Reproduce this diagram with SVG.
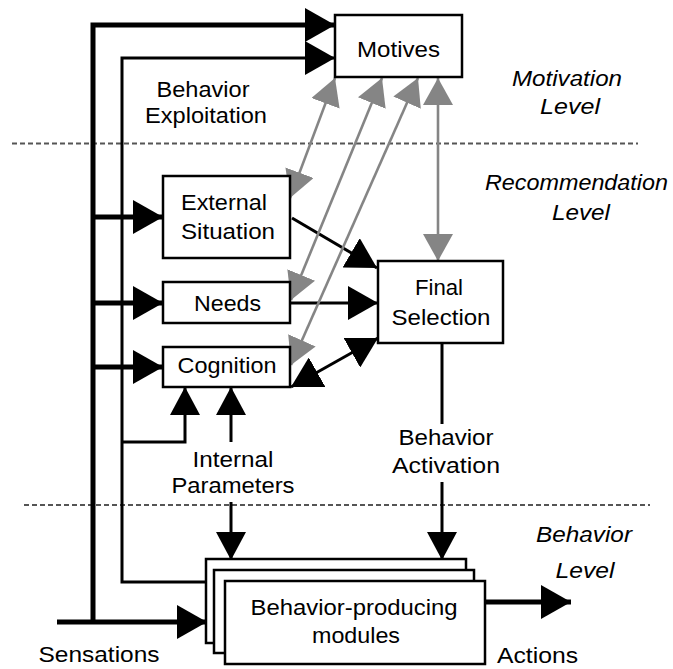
<svg xmlns="http://www.w3.org/2000/svg" width="673" height="669" viewBox="0 0 673 669">
  <style>
    .box{fill:#fff;stroke:#000;stroke-width:2.5}
    .lbl{font-family:"Liberation Sans",Arial,Helvetica,sans-serif;font-size:22px;fill:#000;text-anchor:middle}
    .lvl{font-style:italic}
    .thick{fill:none;stroke:#000;stroke-width:5}
    .thin{fill:none;stroke:#000;stroke-width:3}
    .gray{fill:none;stroke:#858585;stroke-width:2.6}
    .sep{fill:none;stroke:#555;stroke-width:2;stroke-dasharray:5 3}
  </style>
  <defs>
    <marker id="ah" markerUnits="userSpaceOnUse" viewBox="0 0 30 34" markerWidth="30" markerHeight="34" refX="30" refY="17" orient="auto-start-reverse">
      <path d="M0,0 L30,17 L0,34 Z" fill="#000"/>
    </marker>
    <marker id="ahs" markerUnits="userSpaceOnUse" viewBox="0 0 28 30" markerWidth="28" markerHeight="30" refX="28" refY="15" orient="auto-start-reverse">
      <path d="M0,0 L28,15 L0,30 Z" fill="#000"/>
    </marker>
    <marker id="ahg" markerUnits="userSpaceOnUse" viewBox="0 0 27 30" markerWidth="27" markerHeight="30" refX="27" refY="15" orient="auto-start-reverse">
      <path d="M0,0 L27,15 L0,30 Z" fill="#858585"/>
    </marker>
  </defs>

  <rect width="673" height="669" fill="#fff"/>

  <!-- level separators -->
  <g id="separators">
    <line class="sep" x1="12" y1="143.5" x2="638" y2="143.5"/>
    <line class="sep" x1="24" y1="505" x2="650" y2="505"/>
  </g>

  <!-- connectors -->
  <g id="connectors">
    <!-- sensation bus -->
    <path class="thick" d="M57,622 H207" marker-end="url(#ah)"/>
    <path class="thick" d="M93,622 V25 H335" marker-end="url(#ah)"/>
    <path class="thick" d="M93,217 H163" marker-end="url(#ah)"/>
    <path class="thick" d="M93,303 H163" marker-end="url(#ah)"/>
    <path class="thick" d="M93,367 H163" marker-end="url(#ah)"/>
    <!-- behavior exploitation feedback -->
    <path class="thin" d="M206,582 H122 V58 H335" marker-end="url(#ah)"/>
    <path class="thin" d="M122,442 H185 V387" marker-end="url(#ahs)"/>
    <!-- internal parameters -->
    <path class="thin" d="M231,442 V387" marker-end="url(#ahs)"/>
    <path class="thin" d="M231,502 V560" marker-end="url(#ahs)"/>
    <!-- recommendations to final selection -->
    <path class="thin" d="M292,218 L377,268" marker-end="url(#ah)"/>
    <path class="thin" d="M290,303 H378" marker-end="url(#ah)"/>
    <path class="thin" d="M291,387 L378,338" marker-start="url(#ah)" marker-end="url(#ah)"/>
    <!-- behavior activation -->
    <path class="thin" d="M442,343 V424"/>
    <path class="thin" d="M442,482 V560" marker-end="url(#ahs)"/>
    <!-- actions -->
    <path class="thick" d="M485,602 H571" marker-end="url(#ah)"/>
    <!-- motive exchanges -->
    <path class="gray" d="M335,78 L290,198" marker-start="url(#ahg)" marker-end="url(#ahg)"/>
    <path class="gray" d="M382,78 L291,300" marker-start="url(#ahg)" marker-end="url(#ahg)"/>
    <path class="gray" d="M418,78 L291,365" marker-start="url(#ahg)" marker-end="url(#ahg)"/>
    <path class="gray" d="M438,78 V261" marker-start="url(#ahg)" marker-end="url(#ahg)"/>
  </g>

  <!-- nodes -->
  <g id="motives">
    <rect class="box" x="335" y="15" width="127" height="62"/>
    <text class="lbl" x="398.5" y="57" textLength="83" lengthAdjust="spacingAndGlyphs">Motives</text>
  </g>
  <g id="external-situation">
    <rect class="box" x="163" y="176" width="127" height="82"/>
    <text class="lbl" x="224" y="210" textLength="86" lengthAdjust="spacingAndGlyphs">External</text>
    <text class="lbl" x="228" y="239" textLength="94" lengthAdjust="spacingAndGlyphs">Situation</text>
  </g>
  <g id="needs">
    <rect class="box" x="163" y="282" width="127" height="41"/>
    <text class="lbl" x="227.5" y="311" textLength="67" lengthAdjust="spacingAndGlyphs">Needs</text>
  </g>
  <g id="cognition">
    <rect class="box" x="163" y="347" width="127" height="40"/>
    <text class="lbl" x="227" y="373" textLength="99" lengthAdjust="spacingAndGlyphs">Cognition</text>
  </g>
  <g id="final-selection">
    <rect class="box" x="378" y="261" width="125" height="82"/>
    <text class="lbl" x="439" y="295" textLength="48" lengthAdjust="spacingAndGlyphs">Final</text>
    <text class="lbl" x="441" y="325" textLength="99" lengthAdjust="spacingAndGlyphs">Selection</text>
  </g>
  <g id="behavior-modules">
    <rect class="box" x="206" y="559" width="260" height="84"/>
    <rect class="box" x="214" y="570" width="260" height="83"/>
    <rect class="box" x="225" y="581" width="260" height="83"/>
    <text class="lbl" x="354" y="615" textLength="207" lengthAdjust="spacingAndGlyphs">Behavior-producing</text>
    <text class="lbl" x="356" y="643" textLength="88" lengthAdjust="spacingAndGlyphs">modules</text>
  </g>

  <!-- signal labels -->
  <g id="labels">
    <text class="lbl" x="203" y="97" textLength="93" lengthAdjust="spacingAndGlyphs">Behavior</text>
    <text class="lbl" x="206" y="123" textLength="122" lengthAdjust="spacingAndGlyphs">Exploitation</text>
    <text class="lbl" x="233" y="467" textLength="81" lengthAdjust="spacingAndGlyphs">Internal</text>
    <text class="lbl" x="233" y="493" textLength="123" lengthAdjust="spacingAndGlyphs">Parameters</text>
    <text class="lbl" x="446" y="445" textLength="95" lengthAdjust="spacingAndGlyphs">Behavior</text>
    <text class="lbl" x="446" y="473" textLength="108" lengthAdjust="spacingAndGlyphs">Activation</text>
    <text class="lbl" x="99" y="662" textLength="121" lengthAdjust="spacingAndGlyphs">Sensations</text>
    <text class="lbl" x="537.5" y="663" textLength="81" lengthAdjust="spacingAndGlyphs">Actions</text>
  </g>

  <!-- level names -->
  <g id="levels">
    <text class="lbl lvl" x="567" y="86" textLength="110" lengthAdjust="spacingAndGlyphs">Motivation</text>
    <text class="lbl lvl" x="570" y="114" textLength="60" lengthAdjust="spacingAndGlyphs">Level</text>
    <text class="lbl lvl" x="576.5" y="190" textLength="183" lengthAdjust="spacingAndGlyphs">Recommendation</text>
    <text class="lbl lvl" x="581" y="220" textLength="58" lengthAdjust="spacingAndGlyphs">Level</text>
    <text class="lbl lvl" x="584" y="542" textLength="96" lengthAdjust="spacingAndGlyphs">Behavior</text>
    <text class="lbl lvl" x="585" y="578" textLength="59" lengthAdjust="spacingAndGlyphs">Level</text>
  </g>
</svg>
